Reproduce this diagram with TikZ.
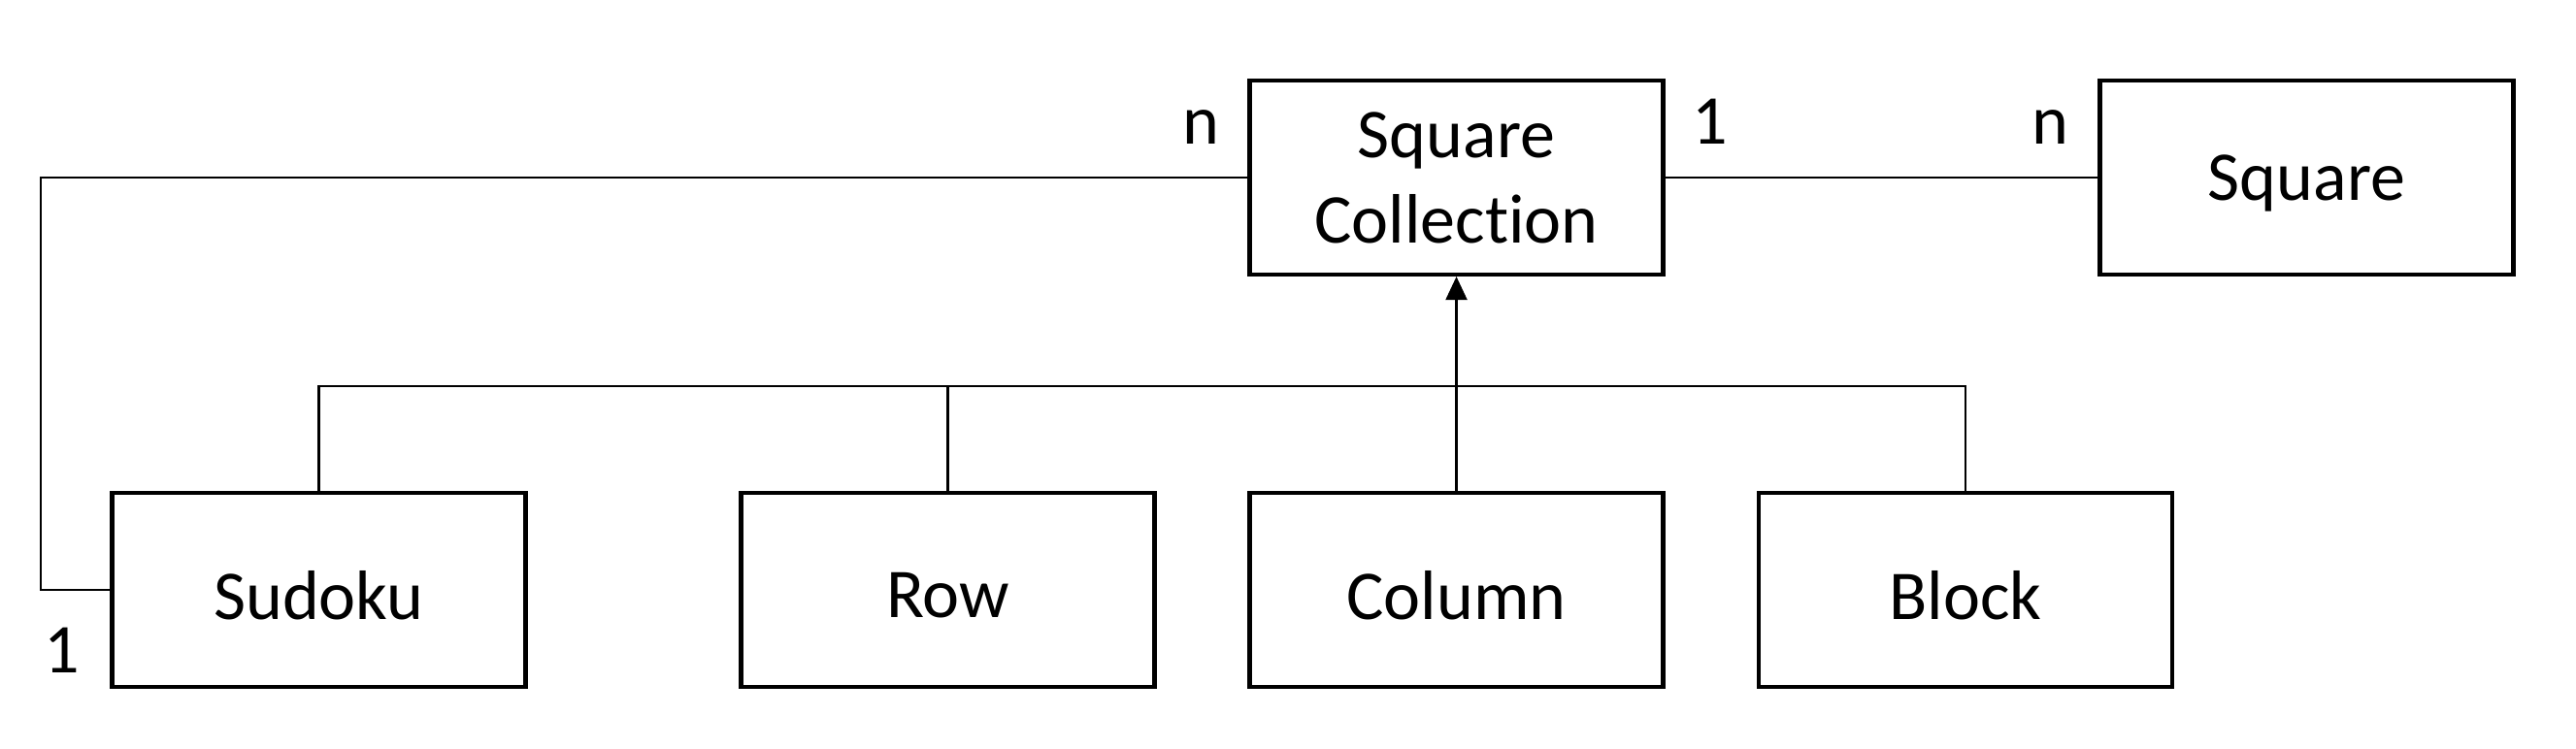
\documentclass[tikz,border=0pt]{standalone}
\usepackage{fontspec}
\setmainfont{Carlito}[Ligatures=NoCommon]
\usetikzlibrary{arrows.meta}
\begin{document}
\begin{tikzpicture}[
  cls/.style={draw, line width=1.2pt, minimum width=4.26cm, minimum height=2.0cm, inner sep=0pt, align=center,
    font=\fontsize{20.5}{25}\selectfont},
  conn/.style={line width=0.6pt},
  mult/.style={anchor=base, inner sep=0pt, font=\fontsize{20.5}{25}\selectfont}
]
\useasboundingbox (0,0) rectangle (26.54,-7.72);
\newcommand{\lowtext}[1]{\raisebox{-0.06cm}[\height][\depth]{#1}}
\node[cls] (sc) at (15.005,-1.83) {Square\\Collection};
\node[cls] (sq) at (23.765,-1.83) {\lowtext{Square}};
\node[cls] (sudoku) at (3.285,-6.08) {\lowtext{Sudoku}};
\node[cls] (row) at (9.765,-6.08) {\lowtext{Row}};
\node[cls] (column) at (15.005,-6.08) {\lowtext{Column}};
\node[cls] (block) at (20.25,-6.08) {\lowtext{Block}};
\coordinate (bus) at (0,-3.978);
\coordinate (leftx) at (0.423,0);
% associations
\draw[conn] (sudoku.west) -- (leftx |- sudoku.west) -- (leftx |- sc.west) -- (sc.west);
\draw[conn] (sc.east) -- (sq.west);
% generalization bus
\draw[conn] (sudoku.north) -- (sudoku.north |- bus) -- (block.north |- bus) -- (block.north);
\draw[conn] (row.north) -- (row.north |- bus);
\draw[conn, -{Triangle[length=0.24cm, width=0.22cm]}] (column.north) -- (sc.south);
% multiplicities
\node[mult] (m1) at (12.37,-1.49) {n};
\node[mult] (m2) at (17.62,-1.49) {1};
\node[mult] (m3) at (21.12,-1.49) {n};
\node[mult] (m4) at (0.64,-6.94) {1};
\end{tikzpicture}
\end{document}
